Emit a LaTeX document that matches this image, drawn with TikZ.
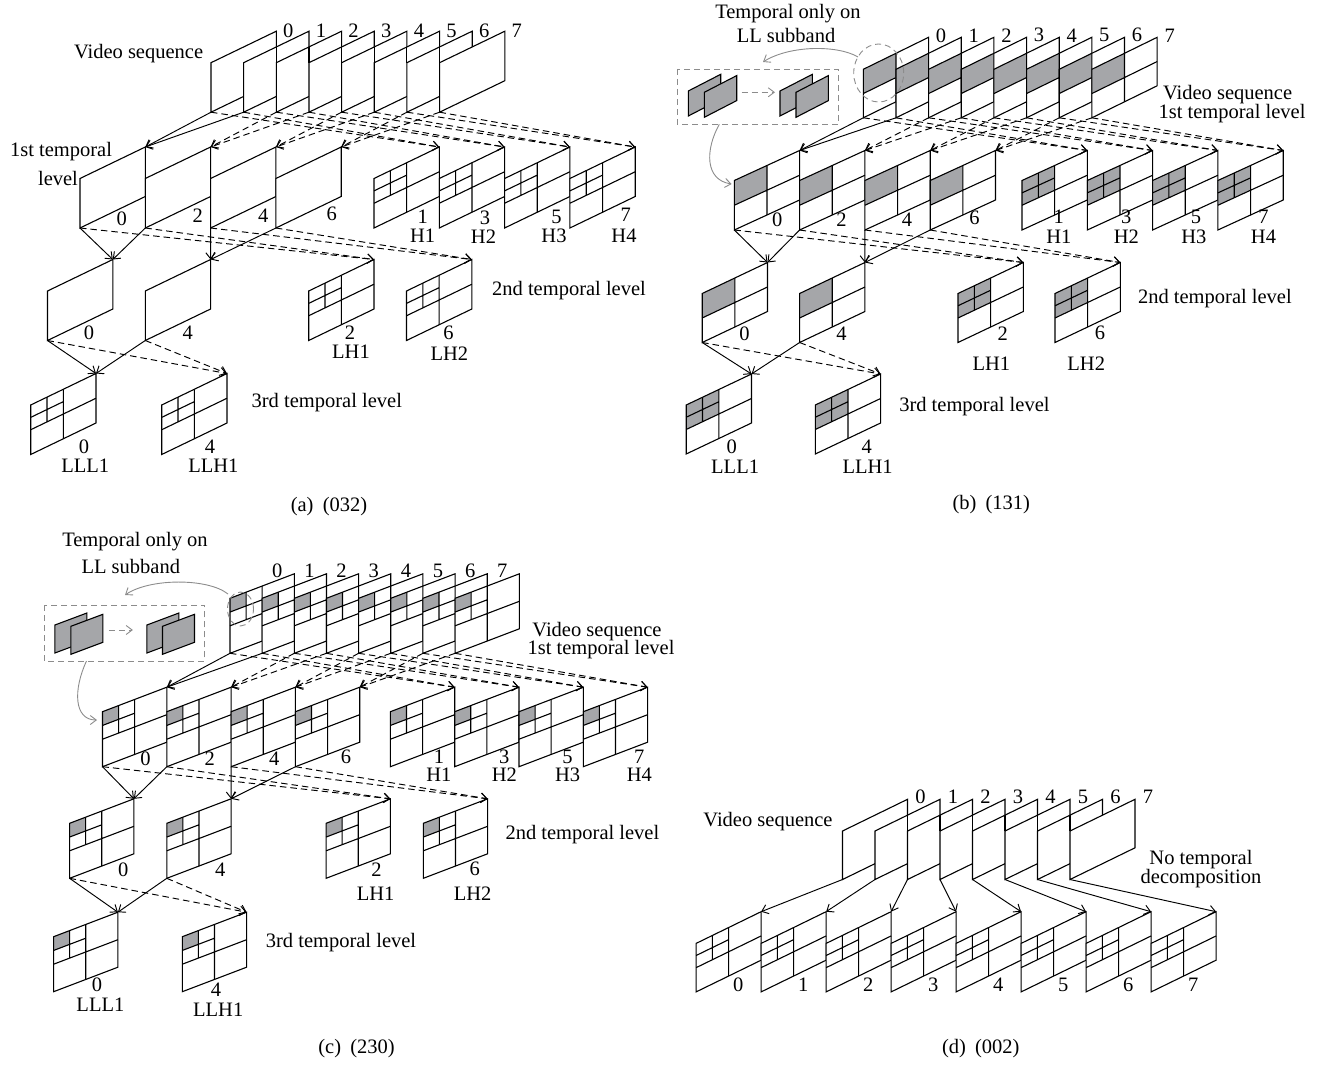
\documentclass[tikz,border=0pt]{standalone}
\usepackage{fontspec}
\setmainfont{Liberation Serif}
\usetikzlibrary{arrows.meta}
\definecolor{llgray}{RGB}{165,166,169}
\definecolor{ingray}{RGB}{140,140,140}
\def\fW{65}\def\fH{49}\def\fR{31}
\newcommand\Frm[4]{%
  \begin{scope}[shift={({#2},{#3})},x={(\fW pt,\fR pt)},y={(0pt,-\fH pt)}]
    \fill[white] (0,0)--(1,0)--(1,1)--(0,1)--cycle;
    \ifcase#4\relax
    \or\fill[llgray] (0,0)--(.5,0)--(.5,.5)--(0,.5)--cycle;
    \or
    \or\fill[llgray] (0,0)--(.5,0)--(.5,.5)--(0,.5)--cycle;
    \or\fill[llgray] (0,0)--(.25,0)--(.25,.25)--(0,.25)--cycle;
    \or
    \or\fill[llgray] (0,0)--(1,0)--(1,1)--(0,1)--cycle;
    \fi
    \ifcase#4\relax
    \or\draw[fr] (.5,0)--(.5,1) (0,.5)--(1,.5);
    \or\draw[fr] (.5,0)--(.5,1) (0,.5)--(1,.5) (.25,0)--(.25,.5) (0,.25)--(.5,.25);
    \or\draw[fr] (.5,0)--(.5,1) (0,.5)--(1,.5) (.25,0)--(.25,.5) (0,.25)--(.5,.25);
    \or\draw[fr] (.5,0)--(.5,1) (0,.5)--(1,.5) (.25,0)--(.25,.5) (0,.25)--(.5,.25);
    \or\draw[fr] (.5,0)--(.5,{\fR/(2*\fH)});
    \or
    \fi
    \draw[fr] (0,0)--(1,0)--(1,1)--(0,1)--cycle;
    \coordinate (#1-tl) at (0,0); \coordinate (#1-tr) at (1,0);
    \coordinate (#1-bl) at (0,1); \coordinate (#1-br) at (1,1);
  \end{scope}}
\newcommand\Lb[4]{\node[lbl] (#1) at (#2,#3) {#4};}
\newcommand\Arrows[1]{%
  \draw[sol] (#1v0-bl)--(#1L0-tr); \draw[sol] (#1v1-bl)--(#1L0-tr);
  \draw[dsh] (#1v0-bl)--(#1H1-tr); \draw[dsh] (#1v1-bl)--(#1H1-tr);
  \draw[dsh] (#1v2-bl)--(#1L2-tr); \draw[dsh] (#1v3-bl)--(#1L2-tr);
  \draw[dsh] (#1v2-bl)--(#1H2-tr); \draw[dsh] (#1v3-bl)--(#1H2-tr);
  \draw[dsh] (#1v4-bl)--(#1L4-tr); \draw[dsh] (#1v5-bl)--(#1L4-tr);
  \draw[dsh] (#1v4-bl)--(#1H3-tr); \draw[dsh] (#1v5-bl)--(#1H3-tr);
  \draw[dsh] (#1v6-bl)--(#1L6-tr); \draw[dsh] (#1v7-bl)--(#1L6-tr);
  \draw[dsh] (#1v6-bl)--(#1H4-tr); \draw[dsh] (#1v7-bl)--(#1H4-tr);
  \draw[sol] (#1L0-bl)--(#1P0-tr); \draw[sol] (#1L2-bl)--(#1P0-tr);
  \draw[sol] (#1L4-bl)--(#1P4-tr); \draw[sol] (#1L6-bl)--(#1P4-tr);
  \draw[dsh] (#1L0-bl)--(#1LH1-tr); \draw[dsh] (#1L2-bl)--(#1LH1-tr);
  \draw[dsh] (#1L4-bl)--(#1LH2-tr); \draw[dsh] (#1L6-bl)--(#1LH2-tr);
  \draw[sol] (#1P0-bl)--(#1Q0-tr); \draw[sol] (#1P4-bl)--(#1Q0-tr);
  \draw[dsh] (#1P0-bl)--(#1Q4-tr); \draw[dsh] (#1P4-bl)--(#1Q4-tr);}
\begin{document}
\begin{tikzpicture}[x=1pt,y=-1pt,
  fr/.style={line width=1.1pt},
  sol/.style={line width=0.95pt,-{Straight Barb[length=6pt,width=9.5pt]}},
  dsh/.style={sol,dash pattern=on 6.5pt off 4pt},
  lbl/.style={inner sep=0pt,font=\fontsize{20.5}{24}\selectfont},
  inbox/.style={ingray,line width=0.9pt,dash pattern=on 6pt off 4pt},
  inarr/.style={ingray,line width=0.9pt,-{Straight Barb[length=6pt,width=9pt]}}]
\useasboundingbox (0,0) rectangle (1323,1065);

% ================= panel (a)
\def\fW{65.3}\def\fH{49.5}\def\fR{31.5}
\foreach \k/\t in {0/0,1/5,2/5,3/5,4/5,5/5,6/5,7/0} {\Frm{av\k}{211+32.65*\k}{62.7}{\t}}
\foreach \k in {0,2,4,6} {\Frm{aL\k}{80+32.65*\k}{178.5}{0}}
\foreach \k in {1,2,3,4} {\Frm{aH\k}{374+65.3*(\k-1)}{178.5}{2}}
\Frm{aP0}{47.5}{291}{0} \Frm{aP4}{145.3}{291}{0}
\Frm{aLH1}{308.7}{291}{2} \Frm{aLH2}{406.5}{291}{2}
\Frm{aQ0}{30.7}{405}{2} \Frm{aQ4}{161.7}{405}{2}
\Arrows{a}
\foreach \k in {0,...,7} {\node[lbl,xshift=12pt,yshift=0.5pt] (atop\k) at (av\k-tr) {\k};}
\Lb{aVS}{138.6}{53.3}{Video sequence}
\Lb{aT1a}{61}{151.7}{1st temporal}
\Lb{aT1b}{58}{178.3}{level}
\Lb{al0}{121.8}{218.3}{0} \Lb{al2}{197.7}{215.5}{2} \Lb{al4}{263.3}{215.5}{4} \Lb{al6}{331.7}{213.5}{6}
\Lb{ah1}{422.7}{216.7}{1} \Lb{ah1b}{422.7}{235.5}{H1}
\Lb{ah3}{485}{217.5}{3} \Lb{ah3b}{483.5}{236.5}{H2}
\Lb{ah5}{556.5}{216.7}{5} \Lb{ah5b}{554}{235.5}{H3}
\Lb{ah7}{625.8}{215}{7} \Lb{ah7b}{624}{235.5}{H4}
\Lb{ap0}{89}{332.7}{0} \Lb{ap4}{187.7}{332.7}{4}
\Lb{alh2}{349.9}{332.7}{2} \Lb{alh2b}{351}{351.7}{LH1}
\Lb{alh6}{448.6}{332.7}{6} \Lb{alh6b}{449.4}{353.3}{LH2}
\Lb{aT2}{569}{291}{2nd temporal level}
\Lb{aq0}{84}{446.7}{0} \Lb{aq0b}{85.3}{466}{LLL1}
\Lb{aq4}{210}{446.7}{4} \Lb{aq4b}{213.4}{466}{LLH1}
\Lb{aT3}{326.8}{402.7}{3rd temporal level}
\Lb{acap}{329}{507}{(a)\hspace{.45em}(032)}

% ================= panel (b)
\def\fW{65.3}\def\fH{48.5}\def\fR{32}
\foreach \k in {0,...,7} {\Frm{bv\k}{863.3+32.65*\k}{69.3}{1}}
\def\fH{49.5}\def\fR{30}
\foreach \k in {0,2,4,6} {\Frm{bL\k}{734.3+32.65*\k}{180.5}{1}}
\foreach \k in {1,2,3,4} {\Frm{bH\k}{1022+65.3*(\k-1)}{180.5}{3}}
\def\fH{49}\def\fR{31}
\Frm{bP0}{702.2}{293.5}{1} \Frm{bP4}{799.6}{293.5}{1}
\Frm{bLH1}{958}{293.5}{3} \Frm{bLH2}{1055}{293.5}{3}
\Frm{bQ0}{686.2}{405}{3} \Frm{bQ4}{815.3}{405}{3}
\Arrows{b}
\foreach \k in {0,...,7} {\node[lbl,xshift=12.5pt,yshift=2pt] (btop\k) at (bv\k-tr) {\k};}
\draw[inbox] (878.7,73) ellipse [x radius=25pt,y radius=29pt];
\coordinate (bc1s) at (858,57); \coordinate (bc1e) at (763,62);
\draw[inarr] (bc1s) .. controls (838,45) and (790,45) .. (bc1e);
\draw[inbox] (677.3,69) rectangle (838.3,124.3);
\coordinate (bc2s) at (719.3,124.3); \coordinate (bc2e) at (731.7,184);
\draw[inarr] (bc2s) .. controls (705,150) and (705,180) .. (bc2e);
\def\fW{32.4}\def\fH{25}\def\fR{16.7}
\Frm{bs1}{688.3}{91}{6} \Frm{bs2}{704.3}{92.3}{6}
\Frm{bs3}{780}{91}{6} \Frm{bs4}{796}{92.3}{6}
\coordinate (bia) at (741.7,92.3); \coordinate (bib) at (775,92.3);
\draw[inarr,dash pattern=on 6pt off 4pt] (bia)--(bib);
\Lb{bTa}{788}{13.3}{Temporal only on}
\Lb{bTb}{786}{35}{LL subband}
\Lb{bVS}{1227.6}{95}{Video sequence}
\Lb{bT1}{1232}{113.3}{1st temporal level}
\Lb{bl0}{777.3}{220}{0} \Lb{bl2}{841.5}{220}{2} \Lb{bl4}{906.9}{220}{4} \Lb{bl6}{974.4}{218.3}{6}
\Lb{bh1}{1058.8}{216.7}{1} \Lb{bh1b}{1058.8}{236.7}{H1}
\Lb{bh3}{1126.3}{216.7}{3} \Lb{bh3b}{1126.3}{236.7}{H2}
\Lb{bh5}{1196}{216.7}{5} \Lb{bh5b}{1193.8}{236.7}{H3}
\Lb{bh7}{1263.5}{216.7}{7} \Lb{bh7b}{1263.5}{236.7}{H4}
\Lb{bp0}{744.4}{333.3}{0} \Lb{bp4}{841.5}{333.3}{4}
\Lb{blh2}{1002.7}{333.3}{2} \Lb{blh2b}{991.3}{364}{LH1}
\Lb{blh6}{1100.1}{333.3}{6} \Lb{blh6b}{1086.2}{364}{LH2}
\Lb{bT2}{1214.9}{299}{2nd temporal level}
\Lb{bq0}{731.7}{446.7}{0} \Lb{bq0b}{735.1}{466.7}{LLL1}
\Lb{bq4}{866.8}{446.7}{4} \Lb{bq4b}{867.6}{466.7}{LLH1}
\Lb{bT3}{974.4}{406.7}{3rd temporal level}
\Lb{bcap}{991.3}{505}{(b)\hspace{.45em}(131)}

% ================= panel (c)
\def\fW{64.3}\def\fH{55}\def\fR{24.5}
\foreach \k in {0,...,7} {\Frm{cv\k}{230+32.15*\k}{598.3}{4}}
\foreach \k in {0,2,4,6} {\Frm{cL\k}{102.5+32.15*\k}{711.7}{4}}
\foreach \k in {1,2,3,4} {\Frm{cH\k}{390.4+64.3*(\k-1)}{711.7}{4}}
\Frm{cP0}{69.6}{823.3}{4} \Frm{cP4}{166.8}{823.3}{4}
\Frm{cLH1}{326.1}{823.3}{4} \Frm{cLH2}{423.3}{823.3}{4}
\Frm{cQ0}{53.6}{936.7}{4} \Frm{cQ4}{182.3}{936.7}{4}
\Arrows{c}
\foreach \k in {0,...,7} {\node[lbl,xshift=-17pt,yshift=3pt] (ctop\k) at (cv\k-tr) {\k};}
\draw[inbox] (240.5,609) ellipse [x radius=13pt,y radius=17pt];
\coordinate (cc1s) at (228,594); \coordinate (cc1e) at (125,595);
\draw[inarr] (cc1s) .. controls (208,578) and (150,578) .. (cc1e);
\draw[inbox] (44.3,605) rectangle (204.7,661);
\coordinate (cc2s) at (86.5,661); \coordinate (cc2e) at (97,720);
\draw[inarr] (cc2s) .. controls (73,690) and (74,720) .. (cc2e);
\def\fW{32}\def\fH{28}\def\fR{12}
\Frm{cs1}{54.9}{625}{6} \Frm{cs2}{70.9}{626.3}{6}
\Frm{cs3}{146.9}{625}{6} \Frm{cs4}{162.5}{626.3}{6}
\coordinate (cia) at (108.9,630); \coordinate (cib) at (132.9,630);
\draw[inarr,dash pattern=on 6pt off 4pt] (cia)--(cib);
\Lb{cTa}{135}{541.7}{Temporal only on}
\Lb{cTb}{130.8}{566.7}{LL subband}
\Lb{cVS}{597}{631.7}{Video sequence}
\Lb{cT1}{601}{650}{1st temporal level}
\Lb{cl0}{145.6}{758.3}{0} \Lb{cl2}{209.7}{758.3}{2} \Lb{cl4}{274.3}{758.3}{4} \Lb{cl6}{346}{756.7}{6}
\Lb{ch1}{438.9}{756.7}{1} \Lb{ch1b}{438.9}{775}{H1}
\Lb{ch3}{504.3}{756.7}{3} \Lb{ch3b}{504.3}{775}{H2}
\Lb{ch5}{567.6}{756.7}{5} \Lb{ch5b}{567.6}{775}{H3}
\Lb{ch7}{639.3}{756.7}{7} \Lb{ch7b}{639.3}{775}{H4}
\Lb{cp0}{123.2}{869.3}{0} \Lb{cp4}{220.3}{869.3}{4}
\Lb{clh2}{376.4}{869.3}{2} \Lb{clh2b}{375.6}{893.3}{LH1}
\Lb{clh6}{474.8}{869.3}{6} \Lb{clh6b}{472.6}{893.3}{LH2}
\Lb{cT2}{582.4}{835}{2nd temporal level}
\Lb{cq0}{97}{985}{0} \Lb{cq0b}{100.4}{1005}{LLL1}
\Lb{cq4}{216}{990}{4} \Lb{cq4b}{218.2}{1009.3}{LLH1}
\Lb{cT3}{341}{942.7}{3rd temporal level}
\Lb{ccap}{356.6}{1048.3}{(c)\hspace{.45em}(230)}

% ================= panel (d)
\def\fW{65}\def\fH{48.5}\def\fR{31.7}
\foreach \k/\t in {0/0,1/5,2/5,3/5,4/5,5/5,6/5,7/0} {\Frm{dv\k}{842.5+32.5*\k}{831}{\t}}
\foreach \k in {0,...,7} {\Frm{db\k}{696.1+65*\k}{943.4}{2}}
\foreach \k in {0,...,7} {\draw[sol] (dv\k-bl)--(db\k-tr);}
\foreach \k in {0,...,7} {\node[lbl,xshift=13pt,yshift=2.5pt] (dtop\k) at (dv\k-tr) {\k};}
\foreach \k in {0,...,7} {\node[lbl] (dbot\k) at (738.2+65*\k,985) {\k};}
\Lb{dVS}{768}{821.7}{Video sequence}
\node[lbl,align=center,font=\fontsize{20.5}{16.6}\selectfont] (dN) at (1201,869) {No temporal\\decomposition};
\Lb{dcap}{980.8}{1048.3}{(d)\hspace{.45em}(002)}
\end{tikzpicture}
\end{document}
